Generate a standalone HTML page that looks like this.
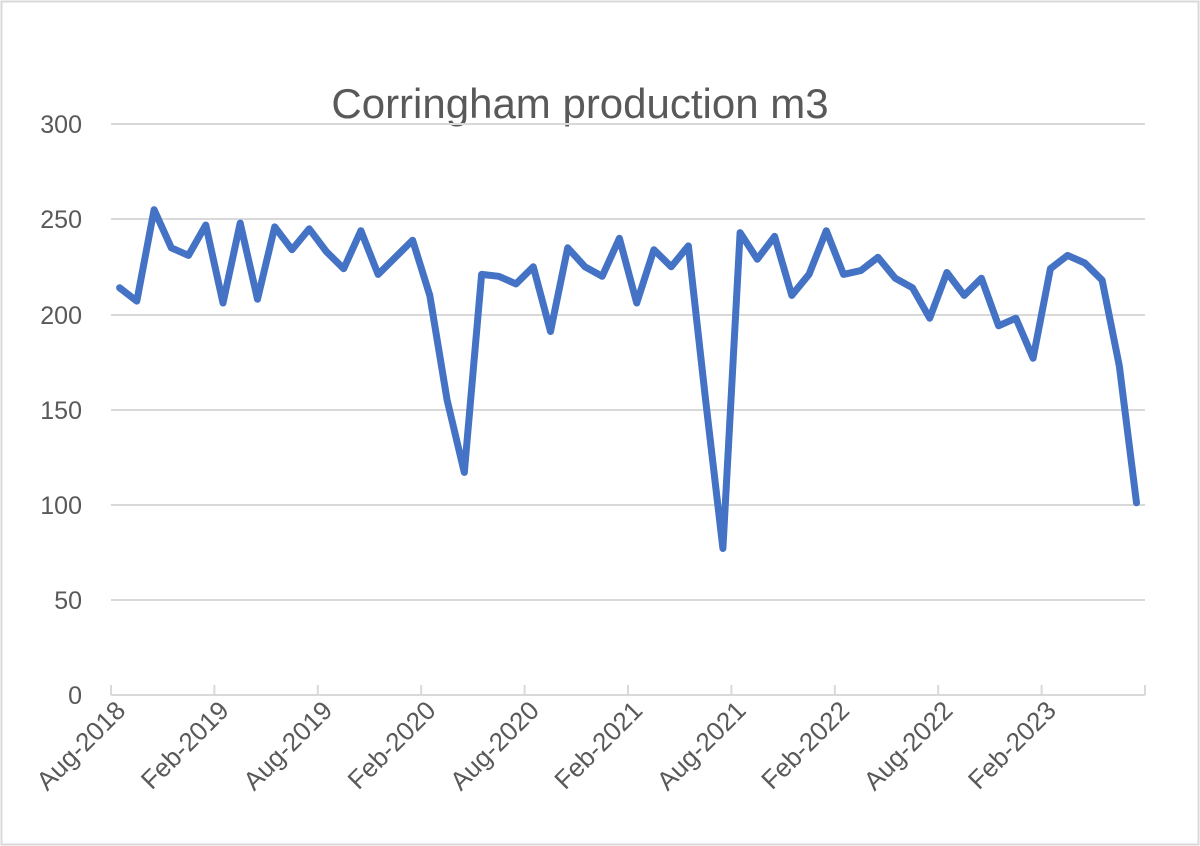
<!DOCTYPE html>
<html><head><meta charset="utf-8"><style>
html,body{margin:0;padding:0;background:#fff;}
svg{display:block;font-family:"Liberation Sans",sans-serif;}
</style></head><body>
<svg width="1200" height="846" viewBox="0 0 1200 846" xmlns="http://www.w3.org/2000/svg">
<rect x="1.5" y="1.5" width="1197" height="843" fill="#fff" stroke="#d9d9d9" stroke-width="2"/>
<text x="580" y="118" font-size="42" fill="#595959" text-anchor="middle">Corringham production m3</text>
<g stroke="#d9d9d9" stroke-width="2">
<line x1="111" y1="124" x2="1145" y2="124"/>
<line x1="111" y1="219" x2="1145" y2="219"/>
<line x1="111" y1="315" x2="1145" y2="315"/>
<line x1="111" y1="410" x2="1145" y2="410"/>
<line x1="111" y1="505" x2="1145" y2="505"/>
<line x1="111" y1="600" x2="1145" y2="600"/>
<line x1="111" y1="695" x2="1145" y2="695"/>
<line x1="111" y1="685" x2="111" y2="695"/>
<line x1="214.4" y1="685" x2="214.4" y2="695"/>
<line x1="317.8" y1="685" x2="317.8" y2="695"/>
<line x1="421.2" y1="685" x2="421.2" y2="695"/>
<line x1="524.6" y1="685" x2="524.6" y2="695"/>
<line x1="628" y1="685" x2="628" y2="695"/>
<line x1="731.4" y1="685" x2="731.4" y2="695"/>
<line x1="834.8" y1="685" x2="834.8" y2="695"/>
<line x1="938.2" y1="685" x2="938.2" y2="695"/>
<line x1="1041.6" y1="685" x2="1041.6" y2="695"/>
<line x1="1145" y1="685" x2="1145" y2="695"/>
</g>
<g font-size="25" fill="#595959" text-anchor="end">
<text x="82" y="133">300</text>
<text x="82" y="228">250</text>
<text x="82" y="324">200</text>
<text x="82" y="419">150</text>
<text x="82" y="514">100</text>
<text x="82" y="609">50</text>
<text x="82" y="704">0</text>
</g>
<g font-size="26" fill="#595959" text-anchor="end">
<text transform="translate(127,712) rotate(-45)">Aug-2018</text>
<text transform="translate(230.4,712) rotate(-45)">Feb-2019</text>
<text transform="translate(333.8,712) rotate(-45)">Aug-2019</text>
<text transform="translate(437.2,712) rotate(-45)">Feb-2020</text>
<text transform="translate(540.6,712) rotate(-45)">Aug-2020</text>
<text transform="translate(644,712) rotate(-45)">Feb-2021</text>
<text transform="translate(747.4,712) rotate(-45)">Aug-2021</text>
<text transform="translate(850.8,712) rotate(-45)">Feb-2022</text>
<text transform="translate(954.2,712) rotate(-45)">Aug-2022</text>
<text transform="translate(1057.6,712) rotate(-45)">Feb-2023</text>
</g>
<polyline fill="none" stroke="#4472c4" stroke-width="7" stroke-linejoin="round" stroke-linecap="round" points="119.6,287.8 136.8,301.1 154.1,209.7 171.3,247.8 188.5,255.4 205.8,225.0 223.0,303.0 240.2,223.1 257.5,299.2 274.7,226.9 292.0,249.7 309.2,228.8 326.4,251.6 343.7,268.7 360.9,230.7 378.1,274.4 395.4,257.3 412.6,240.2 429.8,295.4 447.1,400.0 464.3,472.4 481.6,274.4 498.8,276.3 516.0,283.9 533.3,266.8 550.5,331.5 567.7,247.8 585.0,266.8 602.2,276.3 619.4,238.3 636.7,303.0 653.9,249.7 671.2,266.8 688.4,245.9 705.6,400.0 722.9,548.5 740.1,232.6 757.3,259.2 774.6,236.4 791.8,295.4 809.0,274.4 826.3,230.7 843.5,274.4 860.8,270.6 878.0,257.3 895.2,278.2 912.5,287.8 929.7,318.2 946.9,272.5 964.2,295.4 981.4,278.2 998.6,325.8 1015.9,318.2 1033.1,358.2 1050.4,268.7 1067.6,255.4 1084.8,263.0 1102.1,280.1 1119.3,365.8 1136.5,502.8"/>
</svg>
</body></html>
